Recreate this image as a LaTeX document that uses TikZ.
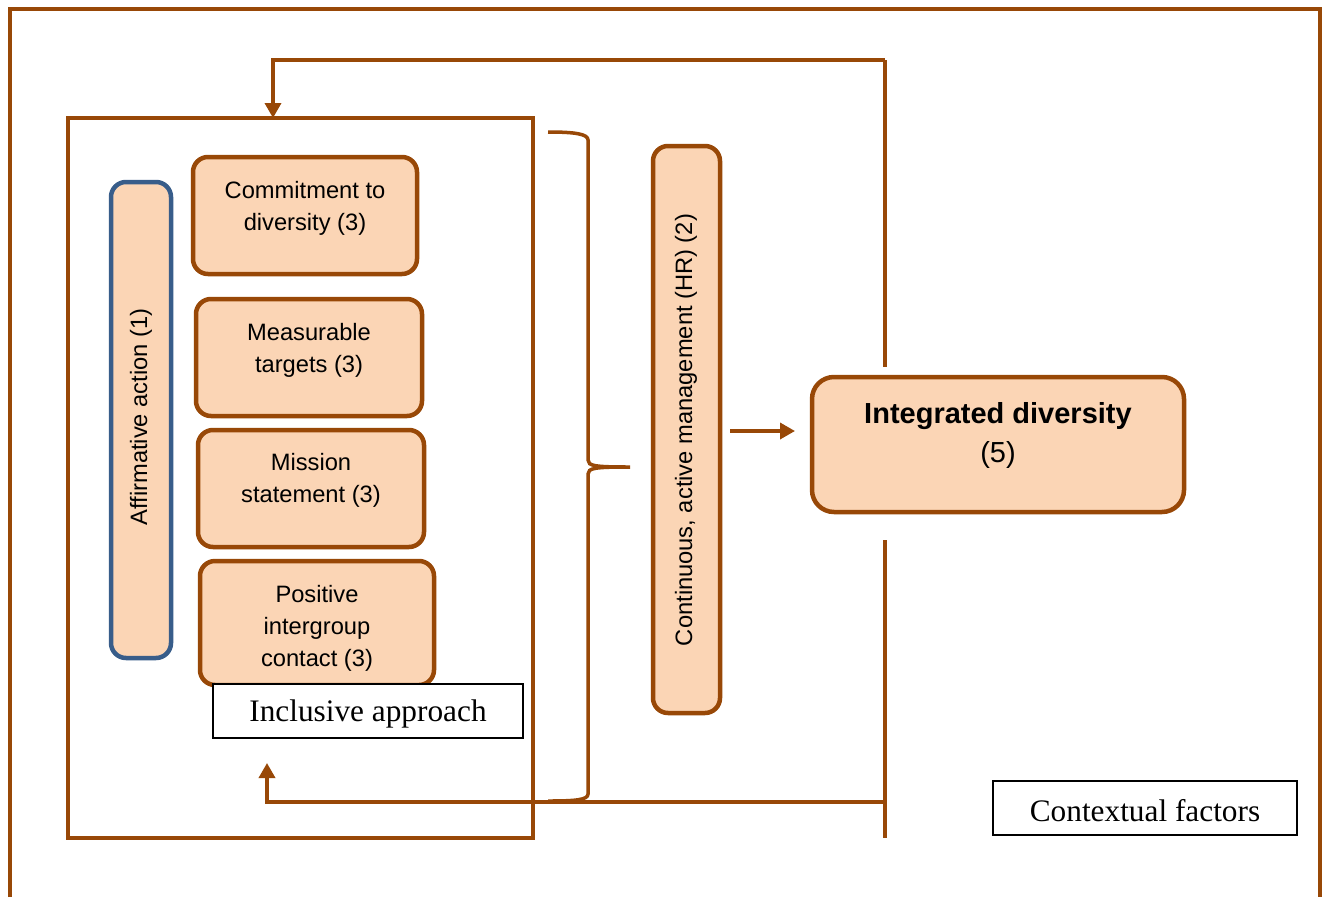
\documentclass[tikz,border=0pt]{standalone}
\usepackage{fontspec}
\setmainfont{Liberation Serif}
\setsansfont{Liberation Sans}
\usetikzlibrary{arrows.meta}
\definecolor{brn}{HTML}{984807}
\definecolor{peach}{HTML}{FBD5B5}
\definecolor{blu}{HTML}{385D8A}
\begin{document}
\begin{tikzpicture}[x=1pt,y=-1pt,
  ob/.style={draw=brn, line width=4.5pt, fill=peach, rounded corners=15pt, inner sep=0pt, outer sep=0pt},
  bt/.style={font=\sffamily\fontsize{23.7}{32}\selectfont, align=center, inner sep=0pt},
  lbl/.style={draw=black, line width=1.5pt, fill=white, minimum height=54pt, inner sep=0pt, outer sep=0pt},
  lt/.style={font=\rmfamily\fontsize{31.3}{36}\selectfont, inner sep=0pt},
  ln/.style={draw=brn, line width=3.5pt},
  arr/.style={ln, -{Triangle[length=15pt,width=16pt]}}]
\fill[white] (0,0) rectangle (1327,897);
\useasboundingbox (0,0) rectangle (1327,897);
% outer frame
\draw[ln, line width=4pt] (10,897) -- (10,9) -- (1320,9) -- (1320,897);
% inner box
\node[draw=brn, line width=4pt, minimum width=465pt, minimum height=720pt, inner sep=0pt, outer sep=0pt] (inner) at (300.5,478) {};
% boxes
\node[ob, draw=blu, minimum width=60pt, minimum height=476pt] (aff) at (141,420) {};
\node[bt, rotate=90] (afft) at (141,417) {Affirmative action (1)};
\node[ob, minimum width=224pt, minimum height=117pt] (b1) at (305,215.5) {};
\node[bt] (b1t) at (305,208) {Commitment to\\diversity (3)};
\node[ob, minimum width=226pt, minimum height=117pt] (b2) at (309,357.5) {};
\node[bt] (b2t) at (309,350) {Measurable\\targets (3)};
\node[ob, minimum width=226pt, minimum height=117pt] (b3) at (311,488.5) {};
\node[bt] (b3t) at (311,480) {Mission\\statement (3)};
\node[ob, minimum width=234pt, minimum height=124pt] (b4) at (317,623) {};
\node[bt] (b4t) at (317,628) {Positive\\intergroup\\contact (3)};
\node[lbl, minimum width=310pt] (incl) at (368,711) {};
\node[lt] (inclt) at (368,714) {Inclusive approach};
% continuous
\node[ob, minimum width=67pt, minimum height=567pt] (cont) at (686.5,429.5) {};
\node[bt, rotate=90] (contt) at (686,430) {Continuous, active management (HR) (2)};
% integrated
\node[ob, minimum width=372pt, minimum height=135pt, rounded corners=22pt] (integ) at (998,444.5) {};
\node[font=\sffamily\fontsize{29}{39}\selectfont, align=center, inner sep=0pt] (integt) at (998,435) {\textbf{Integrated diversity}\\(5)};
\node[lbl, minimum width=304pt] (ctx) at (1145,808) {};
\node[lt] (ctxt) at (1145,811) {Contextual factors};
% brace
\draw[ln] (548,132) .. controls (575,132) and (588,134) .. (588,140) -- (588,460) .. controls (588,466) and (595,467) .. (630,467)
  .. controls (595,467) and (588,468) .. (588,474) -- (588,794) .. controls (588,800) and (575,801) .. (548,801);
% arrow to integrated
\draw[arr, shorten <=10pt, shorten >=17pt] (cont.east |- 0,431) -- (integ.west |- 0,431);
% right vertical line with feedback loops
\coordinate (vtop) at (885,60);
\coordinate (vgap1) at (885,367);
\coordinate (vgap2) at (885,540);
\coordinate (vbot) at (885,838);
\coordinate (fb) at (885,802);
\coordinate (fbtip) at (267,763);
\draw[ln] (vtop) -- (vgap1);
\draw[ln] (vgap2) -- (vbot);
\draw[arr] (vtop) -- (273,60) -- (273,60 |- inner.north);
\draw[arr] (fb) -- (fb -| fbtip) -- (fbtip);
\end{tikzpicture}
\end{document}
